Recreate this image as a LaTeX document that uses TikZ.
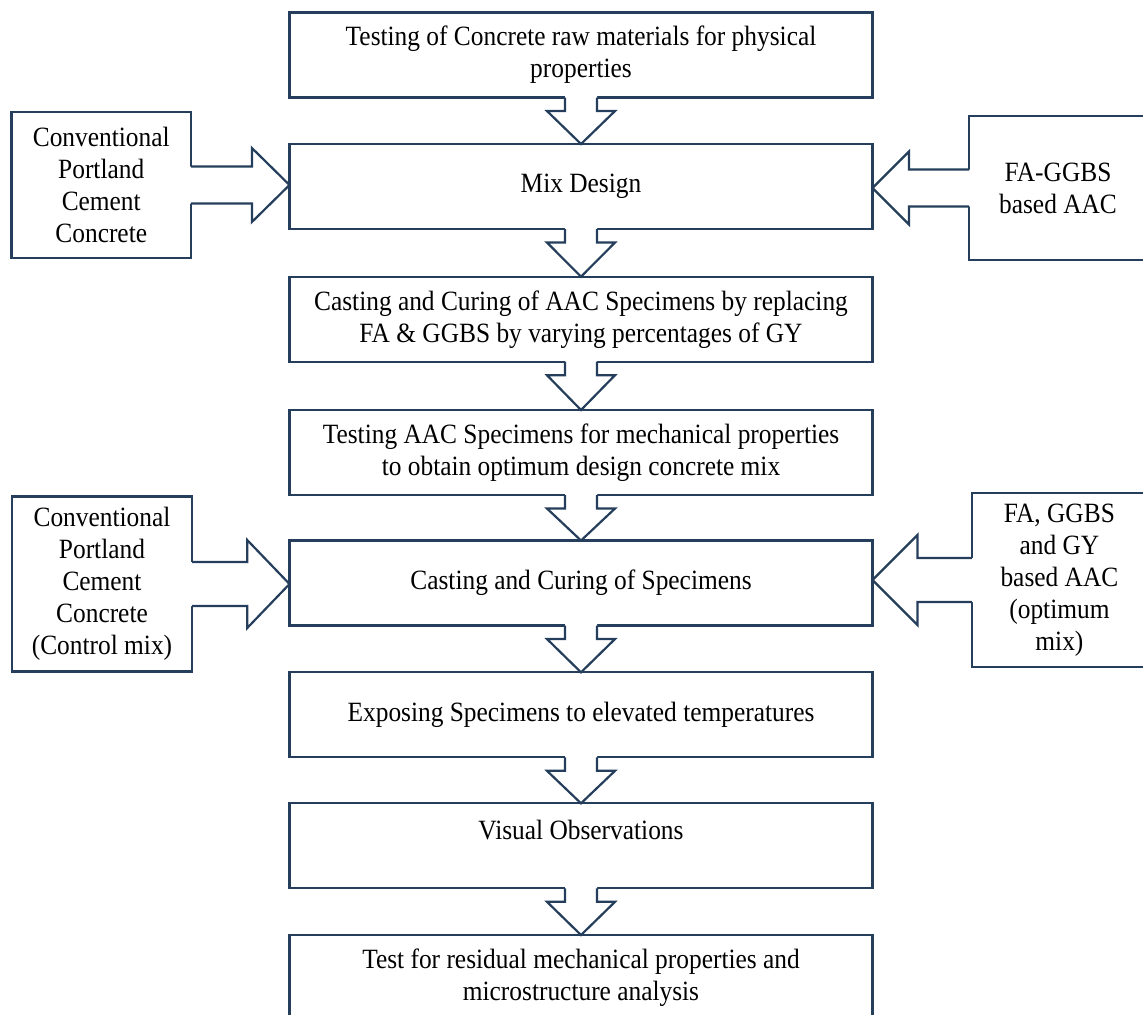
\documentclass[tikz,border=0pt]{standalone}
\usepackage{fontspec}
\setmainfont{Liberation Serif}[FakeStretch=0.91]
\usetikzlibrary{calc}
\definecolor{lc}{RGB}{36,62,92}
\tikzset{
 box/.style={draw=lc, line width=1.1pt, fill=white, align=center, inner sep=0pt, outer sep=0pt, font=\fontsize{13.95}{16}\selectfont},
 mainbox/.style={box, minimum width=291.5pt, minimum height=42.5pt},
 arrline/.style={draw=lc, line width=1.1pt, line join=miter},
}
\newcommand{\dnarrow}[2]{%
 \fill[white] ($(#1.south)+(-16,-3)$) -- ($(#1.south)+(-16,13.5)$) -- ($(#1.south)+(-34,13.5)$) -- (#2.north) -- ($(#1.south)+(34,13.5)$) -- ($(#1.south)+(16,13.5)$) -- ($(#1.south)+(16,-3)$) -- cycle;
 \draw[arrline] ($(#1.south)+(-16,0)$) -- ($(#1.south)+(-16,13.5)$) -- ($(#1.south)+(-34,13.5)$) -- (#2.north) -- ($(#1.south)+(34,13.5)$) -- ($(#1.south)+(16,13.5)$) -- ($(#1.south)+(16,0)$);
}
\newcommand{\sidearrow}[6]{%
 \fill[white] ($(#1)+(#6,-#3)$) -- ($(#2)+(#5,-#3)$) -- ($(#2)+(#5,-#4)$) -- (#2) -- ($(#2)+(#5,#4)$) -- ($(#2)+(#5,#3)$) -- ($(#1)+(#6,#3)$) -- cycle;
 \draw[arrline] ($(#1)+(0,-#3)$) -- ($(#2)+(#5,-#3)$) -- ($(#2)+(#5,-#4)$) -- (#2) -- ($(#2)+(#5,#4)$) -- ($(#2)+(#5,#3)$) -- ($(#1)+(0,#3)$);
}
\begin{document}
\begin{tikzpicture}[x=0.5pt,y=-0.5pt]
\useasboundingbox[fill=white] (0,0) rectangle (1143,1014);
% main column
\node[mainbox] (b1) at (581,55) {Testing of Concrete raw materials for physical\\properties};
\node[mainbox] (b2) at (581,186.5) {Mix Design};
\node[mainbox] (b3) at (581,319.2) {Casting and Curing of AAC Specimens by replacing\\FA \& GGBS by varying percentages of GY};
\node[mainbox] (b4) at (581,452.5) {Testing AAC Specimens for mechanical properties\\to obtain optimum design concrete mix};
\node[mainbox] (b5) at (581,583) {Casting and Curing of Specimens};
\node[mainbox] (b6) at (581,714.8) {Exposing Specimens to elevated temperatures};
\node[mainbox] (b7) at (581,845.8) {Visual Observations\\\mbox{}};
\node[mainbox] (b8) at (581,977.5) {Test for residual mechanical properties and\\microstructure analysis};
% side boxes
\node[box, minimum width=89.75pt, minimum height=73pt] (lb1) at (101.25,185) {Conventional\\Portland\\Cement\\Concrete};
\node[box, minimum width=90pt, minimum height=87.5pt] (lb2) at (102,584) {Conventional\\Portland\\Cement\\Concrete\\(Control mix)};
\node[box, minimum width=89pt, minimum height=72pt] (rb1) at (1058,188) {FA-GGBS\\based AAC};
\node[box, minimum width=87.65pt, minimum height=86.7pt] (rb2) at (1059.4,580) {FA, GGBS\\and GY\\based AAC\\(optimum\\mix)};
% tip coordinates
\coordinate (l1t) at (b2.west |- lb1.center);
\coordinate (l2t) at (b5.west |- lb2.center);
\coordinate (r1t) at (b2.east |- rb1.center);
\coordinate (r2t) at (b5.east |- rb2.center);
% block arrows
\dnarrow{b1}{b2}
\dnarrow{b2}{b3}
\dnarrow{b3}{b4}
\dnarrow{b4}{b5}
\dnarrow{b5}{b6}
\dnarrow{b6}{b7}
\dnarrow{b7}{b8}
\sidearrow{lb1.east}{l1t}{18.5}{37}{-37.6}{-3}
\sidearrow{lb2.east}{l2t}{22}{44}{-42.3}{-3}
\sidearrow{rb1.west}{r1t}{18.5}{36.5}{36.5}{3}
\sidearrow{rb2.west}{r2t}{22}{45}{45}{3}
\end{tikzpicture}
\end{document}
